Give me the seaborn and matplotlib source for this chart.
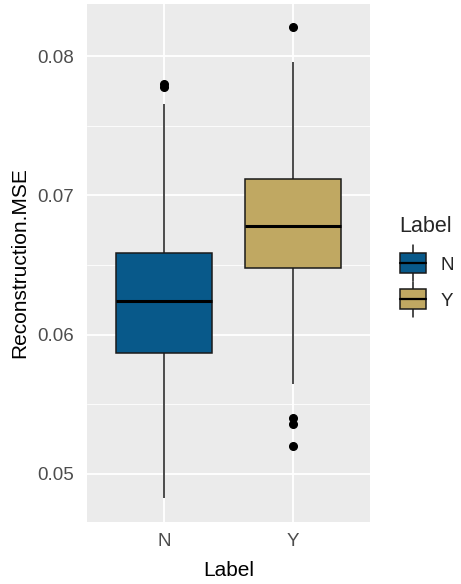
import pandas as pd
import seaborn as sns
import matplotlib.pyplot as plt
from matplotlib.ticker import MultipleLocator, FormatStrFormatter
from matplotlib.legend_handler import HandlerPatch
from matplotlib.patches import Rectangle
from matplotlib.lines import Line2D

# values (whisker ends, quartiles, median, outliers)
labels = ["N", "Y"]
mse_n = [0.0483, 0.0545, 0.0570, 0.0587, 0.0600, 0.0612, 0.0624,
         0.0636, 0.0648, 0.0659, 0.07655, 0.0778, 0.0780]
mse_y = [0.0520, 0.0536, 0.0540, 0.05647, 0.06482, 0.0660, 0.0668, 0.0674,
         0.06784, 0.0685, 0.0693, 0.0703, 0.07115, 0.0740, 0.0765, 0.0796, 0.0821]
box_colors = ["#08598a", "#c0a862"]

df = pd.DataFrame({
    "Label": [labels[0]] * len(mse_n) + [labels[1]] * len(mse_y),
    "Reconstruction.MSE": mse_n + mse_y,
})


# ggplot style legend key: small box with median line and whisker stubs
class BoxKey(HandlerPatch):
    def create_artists(self, legend, orig, xd, yd, w, h, fs, trans):
        x0, y0 = -xd, -yd
        cx = x0 + w / 2
        box = Rectangle((x0, y0), w, h, facecolor=orig.get_facecolor(),
                        edgecolor="#1a1a1a", lw=1.1, transform=trans)
        med = Line2D([x0, x0 + w], [y0 + h / 2] * 2, color="black", lw=1.6, transform=trans)
        top = Line2D([cx, cx], [y0 + h, y0 + h * 1.4], color="#1a1a1a", lw=1.1, transform=trans)
        bot = Line2D([cx, cx], [y0 - h * 0.4, y0], color="#1a1a1a", lw=1.1, transform=trans)
        return [top, bot, box, med]


sns.set_theme(style="darkgrid", rc={
    "axes.facecolor": "#EBEBEB",
    "grid.color": "white",
    "axes.edgecolor": "none",
})
plt.rcParams['font.family'] = ['Liberation Sans', 'DejaVu Sans']

fig = plt.figure(figsize=(4.61, 5.84), dpi=100)
ax = fig.add_axes([0.1887, 0.1062, 0.6139, 0.8868])

sns.boxplot(data=df, x="Label", y="Reconstruction.MSE", hue="Label",
            palette=box_colors, saturation=1, width=0.75, linewidth=1.1,
            linecolor="#1a1a1a", fliersize=5.5,
            flierprops=dict(marker="o", markerfacecolor="black", markeredgecolor="black"),
            medianprops=dict(color="black", linewidth=2.2),
            capprops=dict(linewidth=0),
            legend=True, ax=ax)

ax.set_xlim(-0.6, 1.6)
ax.set_ylim(0.04655, 0.08374)
ax.yaxis.set_major_locator(MultipleLocator(0.01))
ax.yaxis.set_major_formatter(FormatStrFormatter("%.2f"))
ax.yaxis.set_minor_locator(MultipleLocator(0.005))
ax.grid(which="major", color="white", linewidth=1.3)
ax.grid(which="minor", axis="y", color="white", linewidth=0.6)
ax.xaxis.grid(True, which="major", color="white", linewidth=1.3)
ax.set_axisbelow(True)
ax.tick_params(which="major", length=3, width=1, color="#333333",
               labelcolor="#4d4d4d", labelsize=13.5, direction="out", pad=6)
ax.tick_params(axis="x", pad=5)
ax.tick_params(which="minor", length=0)
ax.set_xlabel("Label", fontsize=15, color="black", labelpad=8)
ax.set_ylabel("Reconstruction.MSE", fontsize=15, color="black", labelpad=6)

handles, texts = ax.get_legend_handles_labels()
ax.legend(handles, texts, loc="center left", bbox_to_anchor=(1.045, 0.5),
          frameon=False, title="Label", title_fontsize=15.5, fontsize=13.5,
          handlelength=1.4, handleheight=1.25, labelspacing=0.85,
          handletextpad=0.8, handler_map={Rectangle: BoxKey()})
leg = ax.get_legend()
leg._legend_box.align = "left"

plt.savefig("out.png", dpi=100)
